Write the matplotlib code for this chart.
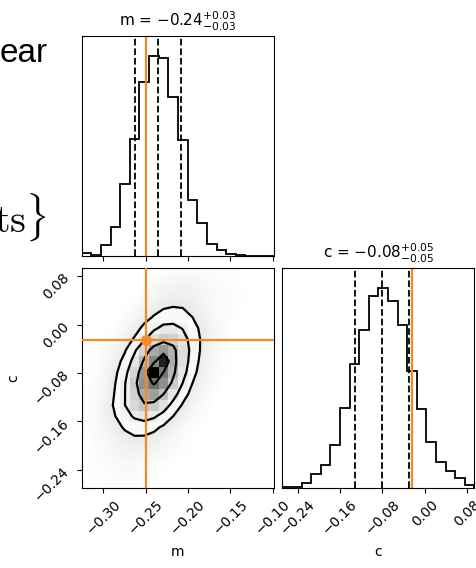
import numpy as np
import matplotlib
matplotlib.use("Agg")
import matplotlib.pyplot as plt
from matplotlib.colors import LinearSegmentedColormap, PowerNorm

# ranges of the two parameters (same 20 bins used in every panel)
m_range = [-0.3255, -0.0981]
c_range = [-0.2697, 0.0943]

m_truth = -0.25
c_truth = -0.025

m_quantiles = [-0.262, -0.236, -0.208]
c_quantiles = [-0.132, -0.080, -0.030]

m_title = r"m = $-0.24_{-0.03}^{+0.03}$"
c_title = r"c = $-0.08_{-0.05}^{+0.05}$"

m_ticks = [-0.30, -0.25, -0.20, -0.15, -0.10]
c_ticks = [-0.24, -0.16, -0.08, 0.00, 0.08]

# 1d histogram counts
m_counts = [13, 4, 55, 146, 358, 584, 867, 1000, 987, 795, 579, 280, 163, 60, 30, 8, 7, 2, 2, 2]
c_counts = [4, 4, 20, 54, 90, 170, 320, 496, 632, 766, 800, 745, 652, 467, 314, 182, 102, 68, 38, 10]

# 2d histogram counts, rows = c bins (top to bottom), cols = m bins (left to right)
mc_counts = [
    [0, 0, 0, 0, 0, 0, 0, 0, 1, 2, 2, 2, 2, 1, 1, 1, 0, 0, 0, 0],
    [0, 0, 0, 0, 0, 0, 0, 3, 5, 7, 8, 6, 4, 2, 1, 1, 0, 0, 0, 0],
    [0, 0, 0, 0, 0, 0, 3, 6, 10, 13, 13, 10, 6, 3, 2, 1, 1, 0, 0, 0],
    [0, 0, 0, 0, 0, 2, 6, 11, 17, 20, 19, 14, 8, 3, 2, 1, 0, 0, 0, 0],
    [0, 0, 0, 0, 2, 5, 13, 23, 33, 36, 31, 21, 11, 4, 2, 1, 0, 0, 0, 0],
    [0, 0, 0, 1, 4, 12, 27, 45, 60, 61, 49, 30, 15, 6, 2, 0, 0, 0, 0, 0],
    [0, 0, 1, 3, 9, 24, 48, 75, 92, 88, 65, 37, 17, 6, 2, 0, 0, 0, 0, 0],
    [0, 0, 2, 7, 19, 46, 83, 118, 130, 112, 75, 39, 16, 5, 1, 0, 0, 0, 0, 0],
    [0, 1, 3, 11, 29, 64, 108, 140, 192, 116, 72, 35, 13, 4, 1, 0, 0, 0, 0, 0],
    [0, 1, 5, 16, 41, 82, 129, 205, 150, 111, 64, 29, 10, 3, 1, 0, 0, 0, 0, 0],
    [0, 2, 7, 21, 50, 93, 135, 153, 135, 93, 50, 21, 7, 2, 0, 0, 0, 0, 0, 0],
    [1, 2, 8, 23, 51, 88, 119, 125, 102, 65, 32, 12, 4, 1, 0, 0, 0, 0, 0, 0],
    [1, 3, 10, 25, 51, 80, 98, 93, 69, 40, 18, 6, 2, 0, 0, 0, 0, 0, 0, 0],
    [1, 3, 9, 21, 39, 56, 64, 56, 39, 21, 9, 3, 1, 0, 0, 0, 0, 0, 0, 0],
    [1, 2, 6, 14, 24, 32, 34, 27, 17, 9, 3, 1, 0, 0, 0, 0, 0, 0, 0, 0],
    [0, 2, 4, 9, 14, 18, 17, 13, 8, 4, 1, 0, 0, 0, 0, 0, 0, 0, 0, 0],
    [0, 1, 3, 6, 9, 11, 10, 7, 4, 2, 1, 0, 0, 0, 0, 0, 0, 0, 0, 0],
    [0, 1, 2, 3, 4, 4, 3, 2, 1, 0, 0, 0, 0, 0, 0, 0, 0, 0, 0, 0],
    [0, 1, 1, 2, 2, 2, 1, 1, 0, 0, 0, 0, 0, 0, 0, 0, 0, 0, 0, 0],
    [0, 0, 1, 1, 1, 1, 1, 0, 0, 0, 0, 0, 0, 0, 0, 0, 0, 0, 0, 0],
]

# enclosed probability of the contours (0.5, 1, 1.5, 2 sigma)
mass_levels = [0.118, 0.393, 0.675, 0.865]

truth_color = "#f28a26"
W, H = 477.0, 568.0

fig = plt.figure(figsize=(W / 100, H / 100), dpi=100)


def px_axes(x0, y0, x1, y1):
    return fig.add_axes([x0 / W, 1 - y1 / H, (x1 - x0) / W, (y1 - y0) / H])


ax_m = px_axes(81.7, 35.7, 274.3, 256.0)
ax_mc = px_axes(81.7, 267.7, 274.3, 487.7)
ax_c = px_axes(282.3, 267.7, 474.5, 487.7)

m_edges = np.linspace(m_range[0], m_range[1], len(m_counts) + 1)
c_edges = np.linspace(c_range[0], c_range[1], len(c_counts) + 1)

# --- 1d histograms
for ax, counts, edges, quant, truth, title, ticks in [
        (ax_m, m_counts, m_edges, m_quantiles, m_truth, m_title, m_ticks),
        (ax_c, c_counts, c_edges, c_quantiles, c_truth, c_title, c_ticks)]:
    ax.stairs(counts, edges, color="k", lw=1.3)
    for q in quant:
        ax.axvline(q, color="k", ls="dashed", lw=1.3)
    ax.axvline(truth, color=truth_color, lw=1.6)
    ax.set_xlim(edges[0], edges[-1])
    ax.set_ylim(0, 1.1 * max(counts))
    ax.set_yticks([])
    ax.set_xticks(ticks)
    ax.set_title(title, fontsize=11, pad=6.5)

ax_m.set_xticklabels([])

# --- 2d histogram
Z = np.array(mc_counts[::-1], dtype=float)
mc = 0.5 * (m_edges[1:] + m_edges[:-1])
cc = 0.5 * (c_edges[1:] + c_edges[:-1])

flat = np.sort(Z.ravel())[::-1]
cum = np.cumsum(flat) / flat.sum()
V = sorted(flat[cum <= v][-1] for v in mass_levels)

# faint cloud standing in for the scattered samples
halo_cmap = LinearSegmentedColormap.from_list("halo", [(0, 0, 0, 0), (0, 0, 0, 0.11)])
ax_mc.imshow(Z, extent=[m_range[0], m_range[1], c_range[0], c_range[1]], origin="lower",
             aspect="auto", cmap=halo_cmap, norm=PowerNorm(0.6, vmin=0, vmax=30),
             interpolation="bilinear", zorder=0)
ax_mc.contourf(mc, cc, Z, [V[0], Z.max()], colors="white", antialiased=False, zorder=1)
density_cmap = LinearSegmentedColormap.from_list("density", ["k", (1, 1, 1, 0)])
ax_mc.pcolormesh(m_edges, c_edges, Z.max() - Z, cmap=density_cmap, zorder=1.5)
ax_mc.contour(mc, cc, Z, V, colors="k", linewidths=1.6, zorder=2)

ax_mc.axvline(m_truth, color=truth_color, lw=1.6, zorder=3)
ax_mc.axhline(c_truth, color=truth_color, lw=1.6, zorder=3)
ax_mc.plot(m_truth, c_truth, "o", color=truth_color, ms=7, zorder=3)

ax_mc.set_xlim(m_range)
ax_mc.set_ylim(c_range)
ax_mc.set_xticks(m_ticks)
ax_mc.set_yticks(c_ticks)
ax_c.set_xlabel("c", fontsize=10)
ax_mc.set_xlabel("m", fontsize=10)
ax_mc.set_ylabel("c", fontsize=10)
ax_mc.xaxis.set_label_coords(0.5, -0.26)
ax_c.xaxis.set_label_coords(0.5, -0.26)
ax_mc.yaxis.set_label_coords(-0.32, 0.5)

for ax in [ax_mc, ax_c]:
    for lab in ax.get_xticklabels() + ax.get_yticklabels():
        lab.set_rotation(45)
        lab.set_fontsize(10)

# fragments of the slide text on the left
fig.text(48 / W, 1 - 62 / H, "ear", ha="right", va="baseline", fontsize=24,
         family="Liberation Sans")
fig.text(46 / W, 1 - 233 / H, r"$\mathrm{ts}\}$", ha="right", va="baseline", fontsize=29,
         math_fontfamily="cm")

fig.savefig("out.png", dpi=100)
